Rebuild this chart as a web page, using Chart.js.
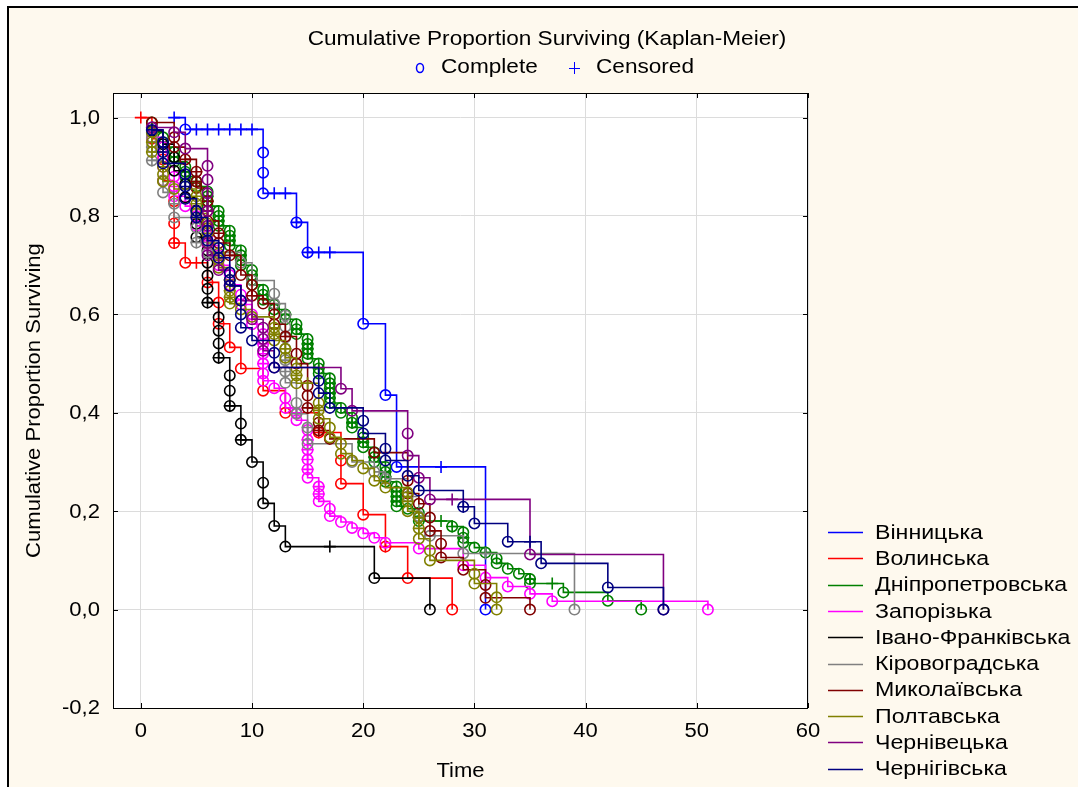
<!DOCTYPE html>
<html>
<head>
<meta charset="utf-8">
<script src="https://cdn.jsdelivr.net/npm/chart.js@4.4.1/dist/chart.umd.min.js"></script>
<style>
  html, body { margin: 0; padding: 0; background: #fff; }
  #wrap { width: 1078px; height: 787px; position: relative; }
</style>
</head>
<body>
<div id="wrap"><canvas id="km"></canvas></div>
<script>
// Kaplan-Meier survival by region.
// Each row: [time, cumulative proportion surviving, mark]
// mark: 0 = complete, 1 = censored, 2 = complete + censored at the same point
const regions = ['Вінницька', 'Волинська', 'Дніпропетровська', 'Запорізька', 'Івано-Франківська',
                 'Кіровоградська', 'Миколаївська', 'Полтавська', 'Чернівецька', 'Чернігівська'];

const vinnytsia = [[3,1.0,1],[4,0.976,0],[5,0.976,1],[6,0.976,1],[7,0.976,1],[8,0.976,1],[9,0.976,1],[10,0.976,1],
  [11,0.929,0],[11,0.888,0],[11,0.846,0],[12,0.846,1],[13,0.846,1],[14,0.787,2],[15,0.726,2],[16,0.726,1],[17,0.726,1],
  [20,0.581,0],[22,0.436,0],[23,0.29,0],[27,0.29,1],[31,0,0]];

const volyn = [[0,1.0,1],[1,0.957,0],[2,0.915,0],[2,0.872,0],[3,0.83,0],[3,0.785,0],[3,0.745,2],[4,0.705,0],[5,0.705,1],
  [6,0.665,0],[7,0.624,0],[7,0.581,0],[8,0.533,0],[9,0.49,0],[11,0.445,0],[13,0.40,0],[16,0.36,2],[18,0.303,0],
  [18,0.256,0],[20,0.193,0],[22,0.128,2],[24,0.064,0],[28,0,0]];

const dnipro = [[1,0.99,0],[1,0.98,2],[1,0.97,0],[2,0.96,0],[2,0.95,2],[2,0.94,0],[3,0.93,0],[3,0.92,2],[3,0.91,0],
  [4,0.90,0],[4,0.89,2],[4,0.88,0],[5,0.87,2],[5,0.86,0],[6,0.85,0],[6,0.84,2],[6,0.83,2],[6,0.82,0],
  [7,0.81,0],[7,0.80,2],[7,0.79,2],[7,0.78,0],[8,0.77,0],[8,0.76,2],[8,0.75,2],[8,0.74,0],[9,0.73,0],[9,0.72,2],
  [9,0.71,2],[9,0.70,0],[10,0.69,0],[10,0.68,2],[10,0.67,2],[10,0.66,0],[11,0.65,0],[11,0.64,2],[11,0.63,0],
  [12,0.62,2],[12,0.61,0],[13,0.60,2],[13,0.59,0],[14,0.58,0],[14,0.57,2],[14,0.56,0],[15,0.55,0],[15,0.54,2],
  [15,0.53,2],[15,0.52,2],[15,0.51,0],[16,0.50,0],[16,0.49,2],[16,0.48,0],[17,0.47,0],[17,0.46,2],[17,0.45,2],
  [17,0.44,2],[17,0.43,2],[17,0.42,0],[18,0.41,0],[18,0.40,0],[19,0.39,0],[19,0.38,2],[19,0.37,0],[20,0.35,0],
  [20,0.34,2],[20,0.33,0],[21,0.32,0],[21,0.31,2],[21,0.30,0],[22,0.29,0],[22,0.28,2],[22,0.27,2],[22,0.26,0],
  [23,0.25,0],[23,0.24,2],[23,0.23,2],[23,0.22,2],[23,0.21,0],[24,0.205,0],[25,0.197,0],[25,0.187,2],[25,0.18,0],
  [27,0.18,1],[28,0.169,2],[29,0.157,0],[29,0.146,2],[29,0.136,0],[30,0.126,0],[31,0.116,2],[32,0.104,0],
  [32,0.094,0],[33,0.083,0],[34,0.073,0],[35,0.062,2],[35,0.053,0],[37,0.053,1],[38,0.035,0],[42,0.018,0],[45,0,0]];

const zaporizhzhia = [[1,0.98,0],[1,0.96,0],[2,0.94,0],[2,0.92,0],[2,0.90,0],[3,0.88,0],[3,0.86,2],[3,0.84,0],
  [4,0.82,0],[5,0.80,0],[5,0.78,0],[6,0.76,0],[6,0.74,0],[7,0.72,0],[7,0.70,0],[8,0.68,0],[8,0.66,0],[9,0.64,0],
  [9,0.62,0],[10,0.60,0],[10,0.58,0],[11,0.56,0],[11,0.54,2],[11,0.52,2],[11,0.50,2],[11,0.48,0],[11,0.465,0],
  [12,0.45,0],[13,0.43,0],[13,0.41,0],[14,0.40,2],[14,0.385,0],[15,0.365,0],[15,0.345,2],[15,0.325,2],[15,0.305,2],
  [15,0.285,2],[15,0.268,0],[16,0.25,2],[16,0.235,2],[16,0.22,0],[17,0.205,0],[17,0.19,0],[18,0.178,0],[19,0.166,0],
  [20,0.155,0],[21,0.146,0],[22,0.136,0],[25,0.124,0],[29,0.09,0],[31,0.065,0],[33,0.047,0],[35,0.032,0],
  [37,0.017,0],[51,0,0]];

const ivanoFrankivsk = [[1,0.973,0],[2,0.946,0],[3,0.919,0],[3,0.892,0],[4,0.865,0],[4,0.838,0],[5,0.811,0],
  [5,0.784,0],[5,0.757,0],[6,0.73,0],[6,0.705,0],[6,0.679,0],[6,0.652,0],[6,0.624,2],[7,0.594,0],[7,0.567,0],
  [7,0.541,0],[7,0.512,2],[8,0.476,0],[8,0.445,0],[8,0.414,2],[9,0.378,0],[9,0.345,2],[10,0.30,0],[11,0.258,0],
  [11,0.216,0],[12,0.17,0],[13,0.128,0],[17,0.128,1],[21,0.064,0],[26,0,0]];

const kirovohrad = [[1,0.96,0],[1,0.94,2],[1,0.913,2],[2,0.872,0],[2,0.848,0],[3,0.825,2],[3,0.797,0],[5,0.776,0],
  [5,0.746,2],[6,0.726,0],[9,0.705,0],[10,0.669,0],[12,0.642,0],[12,0.622,0],[13,0.598,0],[13,0.575,0],
  [13,0.553,0],[13,0.53,0],[13,0.507,2],[13,0.484,2],[13,0.461,0],[14,0.42,0],[14,0.398,2],[15,0.37,2],[15,0.337,0],
  [19,0.30,0],[21,0.28,0],[22,0.266,0],[24,0.23,0],[25,0.19,0],[26,0.15,2],[29,0.114,0],[31,0.114,1],[39,0,0]];

const mykolaiv = [[1,0.99,0],[3,0.96,0],[3,0.94,0],[4,0.915,2],[5,0.89,2],[5,0.87,2],[5,0.857,0],[6,0.83,2],
  [6,0.81,2],[6,0.79,0],[7,0.765,2],[7,0.745,0],[8,0.72,2],[9,0.68,0],[10,0.66,0],[10,0.638,2],[11,0.622,0],
  [12,0.60,0],[12,0.58,0],[13,0.555,2],[14,0.52,0],[14,0.50,0],[15,0.455,0],[15,0.435,0],[15,0.41,2],[16,0.38,0],
  [16,0.364,2],[17,0.347,0],[21,0.319,0],[24,0.262,0],[24,0.236,0],[25,0.215,0],[26,0.187,0],[26,0.16,0],
  [27,0.134,0],[27,0.106,0],[29,0.081,0],[31,0.05,0],[31,0.024,0],[35,0,0]];

const poltava = [[1,0.97,0],[1,0.95,2],[1,0.93,2],[2,0.90,2],[2,0.885,0],[2,0.87,0],[3,0.855,0],[5,0.84,2],
  [5,0.825,2],[5,0.805,0],[6,0.785,2],[6,0.765,2],[6,0.745,0],[7,0.724,2],[7,0.71,2],[7,0.695,0],[8,0.67,2],
  [8,0.648,2],[8,0.635,2],[8,0.622,0],[9,0.61,0],[10,0.595,0],[12,0.573,2],[12,0.56,2],[12,0.547,0],[13,0.53,2],
  [13,0.512,0],[14,0.49,0],[14,0.476,2],[14,0.46,0],[15,0.46,1],[16,0.42,0],[16,0.405,2],[16,0.388,0],[17,0.37,0],
  [17,0.35,0],[18,0.337,0],[18,0.317,0],[19,0.303,0],[20,0.287,0],[21,0.262,0],[22,0.248,0],[24,0.238,2],
  [24,0.22,2],[24,0.2,0],[25,0.187,2],[25,0.165,2],[25,0.144,0],[26,0.12,0],[26,0.1,0],[30,0.073,0],[30,0.053,0],
  [32,0.025,0],[32,0,0]];

const chernivtsi = [[1,0.98,0],[3,0.97,0],[4,0.937,0],[6,0.902,0],[6,0.874,0],[6,0.846,0],[6,0.81,2],[6,0.78,2],
  [6,0.745,0],[6,0.72,0],[7,0.69,0],[8,0.658,0],[9,0.628,0],[10,0.59,0],[11,0.573,0],[11,0.55,0],[11,0.526,0],
  [12,0.492,0],[18,0.449,0],[19,0.404,0],[24,0.358,0],[24,0.313,0],[25,0.268,0],[26,0.224,0],[28,0.224,1],
  [35,0.112,0],[47,0,0]];

const chernihiv = [[1,0.975,2],[2,0.95,0],[2,0.93,2],[2,0.907,0],[4,0.885,0],[4,0.86,2],[4,0.835,0],[5,0.81,0],
  [5,0.797,2],[6,0.77,0],[6,0.75,0],[7,0.735,0],[7,0.715,0],[8,0.685,0],[8,0.67,0],[8,0.658,0],[9,0.628,0],
  [9,0.60,0],[9,0.573,0],[10,0.547,0],[12,0.522,0],[12,0.492,0],[16,0.465,0],[16,0.44,0],[17,0.41,0],
  [20,0.384,0],[20,0.358,0],[22,0.327,0],[22,0.303,0],[24,0.272,0],[25,0.242,0],[29,0.209,2],[30,0.175,0],
  [33,0.138,0],[35,0.138,1],[36,0.094,0],[42,0.045,0],[47,0,0]];

const series = [vinnytsia, volyn, dnipro, zaporizhzhia, ivanoFrankivsk,
                kirovohrad, mykolaiv, poltava, chernivtsi, chernihiv];
const colors = ['#0000ff', '#ff0000', '#008000', '#ff00ff', '#000000',
                '#808080', '#800000', '#808000', '#800080', '#000080'];

const xTicks = [0, 10, 20, 30, 40, 50, 60];
const yTicks = [-0.2, 0, 0.2, 0.4, 0.6, 0.8, 1.0];

const FONT = '"Liberation Sans", Arial, sans-serif';
const SX = 1.13; // text is drawn slightly widened

// one point per mark; a "both" row becomes a circle plus a cross at the same spot
function toPoints(rows) {
  const pts = [];
  rows.forEach(([t, s, m]) => {
    if (m !== 1) pts.push({ x: t, y: s, mark: 'circle' });
    if (m !== 0) pts.push({ x: t, y: s, mark: 'cross' });
  });
  return pts;
}

function txt(ctx, text, x, y, size, align, color, rot) {
  ctx.save();
  ctx.translate(x, y);
  if (rot) ctx.rotate(rot);
  ctx.scale(SX, 1);
  ctx.font = size + 'px ' + FONT;
  ctx.fillStyle = color || '#000';
  ctx.textAlign = align;
  ctx.textBaseline = 'middle';
  ctx.fillText(text, 0, 0);
  ctx.restore();
}

const frame = {
  id: 'frame',
  beforeDraw(chart) {
    const { ctx, chartArea: a } = chart;
    ctx.save();
    ctx.fillStyle = '#ffffff';
    ctx.fillRect(0, 0, chart.width, chart.height);
    ctx.fillStyle = '#fef9ee';
    ctx.fillRect(8, 7, chart.width - 8, chart.height - 7);
    ctx.strokeStyle = '#000';
    ctx.lineWidth = 2;
    ctx.beginPath();
    ctx.moveTo(8, chart.height);
    ctx.lineTo(8, 7);
    ctx.lineTo(chart.width, 7);
    ctx.stroke();
    ctx.fillStyle = '#ffffff';
    ctx.fillRect(a.left, a.top, a.right - a.left, a.bottom - a.top);
    ctx.restore();
  },
  afterDraw(chart) {
    const { ctx, chartArea: a, scales } = chart;
    const xs = scales.x, ys = scales.y;
    ctx.save();
    // plot box and inner tick marks
    ctx.strokeStyle = '#000';
    ctx.lineWidth = 1;
    ctx.strokeRect(a.left + 0.5, a.top + 0.5, a.right - a.left - 1, a.bottom - a.top);
    ctx.beginPath();
    xTicks.forEach(v => {
      const px = Math.round(xs.getPixelForValue(v)) + 0.5;
      ctx.moveTo(px, a.bottom); ctx.lineTo(px, a.bottom - 5);
      ctx.moveTo(px, a.top); ctx.lineTo(px, a.top + 5);
    });
    yTicks.forEach(v => {
      const py = Math.round(ys.getPixelForValue(v)) + 0.5;
      ctx.moveTo(a.left, py); ctx.lineTo(a.left + 5, py);
      ctx.moveTo(a.right, py); ctx.lineTo(a.right - 5, py);
    });
    ctx.stroke();

    // tick labels
    xTicks.forEach(v => txt(ctx, String(v), xs.getPixelForValue(v), 732, 19.5, 'center'));
    yTicks.forEach(v => txt(ctx, v.toFixed(1).replace('.', ','), 100, ys.getPixelForValue(v) + 1, 19.5, 'right'));

    // axis titles
    txt(ctx, 'Time', (a.left + a.right) / 2, 772, 19.5, 'center');
    txt(ctx, 'Cumulative Proportion Surviving', 35, (a.top + a.bottom) / 2, 19.5, 'center', '#000', -Math.PI / 2);

    // title and marker key
    txt(ctx, 'Cumulative Proportion Surviving (Kaplan-Meier)', 547, 39, 20, 'center');
    ctx.strokeStyle = '#0000ff';
    ctx.lineWidth = 1.5;
    ctx.beginPath();
    ctx.ellipse(420, 68, 3.5, 4.5, 0, 0, Math.PI * 2);
    ctx.stroke();
    txt(ctx, 'Complete', 441, 67, 20, 'left');
    ctx.beginPath();
    ctx.moveTo(574.5, 62); ctx.lineTo(574.5, 74);
    ctx.moveTo(569, 68.5); ctx.lineTo(580, 68.5);
    ctx.lineWidth = 1;
    ctx.stroke();
    txt(ctx, 'Censored', 596, 67, 20, 'left');

    // region legend
    regions.forEach((name, i) => {
      const y = 532 + i * 26.3;
      ctx.strokeStyle = colors[i];
      ctx.lineWidth = 1.5;
      ctx.beginPath();
      ctx.moveTo(828, Math.round(y) + 0.5);
      ctx.lineTo(863, Math.round(y) + 0.5);
      ctx.stroke();
      txt(ctx, name, 875, y + 1, 20.5, 'left');
    });
    ctx.restore();
  }
};

const datasets = series.map((rows, i) => ({
  label: regions[i],
  data: toPoints(rows),
  borderColor: colors[i],
  borderWidth: 1.6,
  stepped: true,
  fill: false,
  order: series.length - i,
  pointStyle: c => c.raw ? c.raw.mark : 'circle',
  pointRadius: c => (c.raw && c.raw.mark === 'cross') ? 6 : 5.2,
  pointHoverRadius: c => (c.raw && c.raw.mark === 'cross') ? 6 : 5.2,
  pointBorderColor: colors[i],
  pointBackgroundColor: 'rgba(0,0,0,0)',
  pointBorderWidth: 1.6
}));

new Chart(document.getElementById('km'), {
  type: 'line',
  data: { datasets },
  options: {
    responsive: true,
    maintainAspectRatio: false,
    animation: false,
    events: [],
    layout: { padding: { top: 93, right: 270, left: 0, bottom: 0 } },
    plugins: { legend: { display: false }, tooltip: { enabled: false }, title: { display: false } },
    scales: {
      x: {
        type: 'linear',
        min: -2.5,
        max: 60,
        afterBuildTicks: s => { s.ticks = xTicks.map(v => ({ value: v })); },
        afterFit: s => { s.height = 79; },
        ticks: { display: false },
        grid: { color: '#dcdcdc', lineWidth: 1, drawTicks: false },
        border: { display: false }
      },
      y: {
        type: 'linear',
        min: -0.2,
        max: 1.05,
        afterBuildTicks: s => { s.ticks = yTicks.map(v => ({ value: v })); },
        afterFit: s => { s.width = 113; },
        ticks: { display: false },
        grid: { color: '#dcdcdc', lineWidth: 1, drawTicks: false },
        border: { display: false }
      }
    }
  },
  plugins: [frame]
});
</script>
</body>
</html>
